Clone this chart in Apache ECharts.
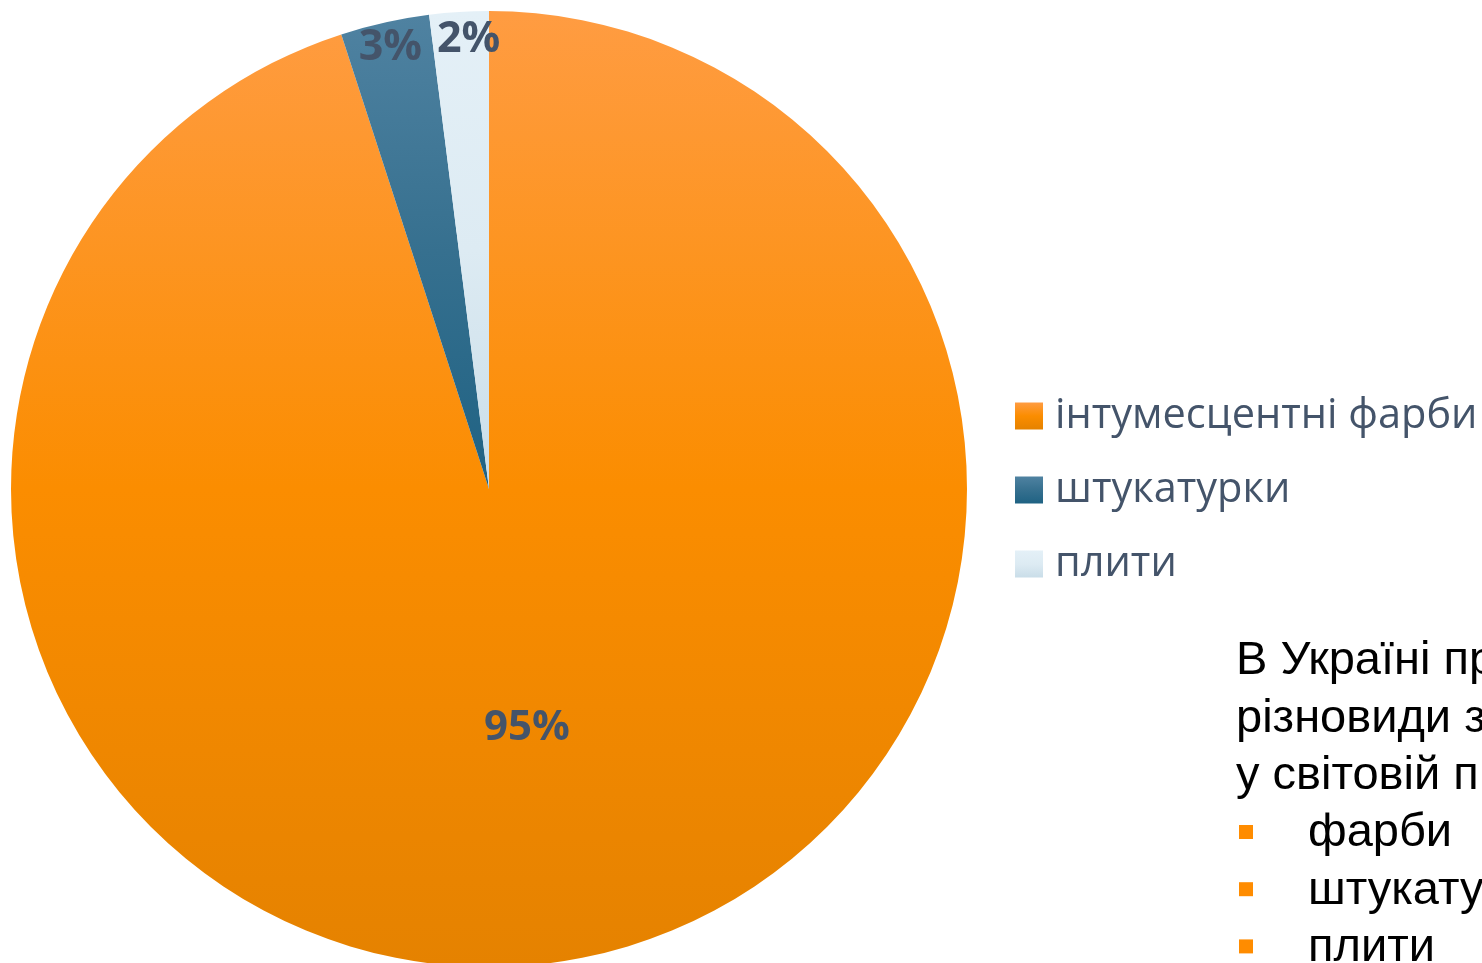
<!DOCTYPE html>
<html><head><meta charset="utf-8">
<script src="https://cdn.jsdelivr.net/npm/echarts@6/dist/echarts.min.js"></script>
<style>html,body{margin:0;padding:0;background:#fff;}#c{width:1482px;height:963px;}</style>
</head><body><div id="c"></div>
<script>
const categories = ['інтумесцентні фарби', 'штукатурки', 'плити'];
const shares = [95, 3, 2];
const sideLines = ['В Україні пр', 'різновиди з', 'у світовій п'];
const bulletLines = ['фарби', 'штукату', 'плити'];

const grad = (a, b, c) => ({type:'linear', x:0, y:0, x2:0, y2:1, colorStops:[{offset:0,color:a},{offset:0.5,color:b},{offset:1,color:c}]});
const colors = [
  grad('#FF9C42', '#FB8D00', '#E58200'),
  grad('#4F82A1', '#36708F', '#1F6283'),
  grad('#E4F0F7', '#DDEBF3', '#C9DDE8')
];
const labelColor = '#44546A';

const chart = echarts.init(document.getElementById('c'), null, {renderer:'canvas'});
const graphics = [];
const sideFont = '47px "Liberation Sans", Arial';
sideLines.forEach((t, i) => {
  graphics.push({type:'text', left:1236, top: 660 + i*57.2 - 22, style:{text:t, font:sideFont, fill:'#000'}});
});
bulletLines.forEach((t, i) => {
  const yc = 832 + i*57.2;
  graphics.push({type:'rect', shape:{x:1239, y:yc-7, width:14, height:14}, style:{fill:'#FF8C00'}});
  graphics.push({type:'text', left:1308, top: yc - 22, style:{text:t, font:sideFont, fill:'#000'}});
});

chart.setOption({
  animation:false,
  backgroundColor:'#fff',
  legend:{
    orient:'vertical', left:1015, top:395, itemWidth:28, itemHeight:27, itemGap:32,
    icon:'rect', data:categories, padding:0,
    textStyle:{color:labelColor, fontSize:41.5, lineHeight:27, fontFamily:'"Open Sans", "Noto Sans", sans-serif', padding:[0,0,0,7]}
  },
  graphic: graphics,
  series:[
    {
      type:'pie', center:[489,489], radius:[0,478], startAngle:90, clockwise:true,
      silent:true,
      data: categories.map((n,i)=>({name:n, value:shares[i], itemStyle:{color:colors[i]},
        label:{show:i===0}})),
      label:{position:'inside', formatter: p => p.value + '%', color:labelColor,
        fontSize:42, fontWeight:'bold', fontFamily:'"Open Sans", "Noto Sans", sans-serif'},
      labelLine:{show:false}
    },
    {
      type:'pie', center:[489,489], radius:[420,478], startAngle:90, clockwise:true,
      silent:true, legendHoverLink:false,
      data: categories.map((n,i)=>({name:n+' ', value:shares[i], itemStyle:{color:'rgba(0,0,0,0)'},
        label:{show:i!==0, offset: i===2 ? [8,2] : [0,0]}})),
      label:{position:'inside', formatter: p => p.value + '%', color:labelColor,
        fontSize:43, fontWeight:'bold', fontFamily:'"Open Sans", "Noto Sans", sans-serif'},
      labelLine:{show:false}
    }
  ]
});
</script></body></html>
